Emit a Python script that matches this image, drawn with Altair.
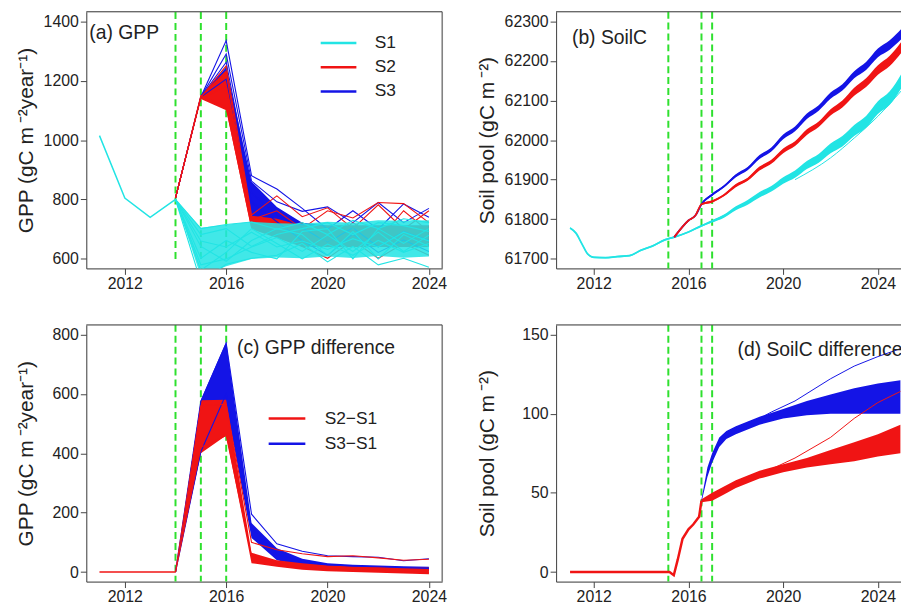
import altair as alt
import pandas as pd

FONT = "Liberation Sans"
CYAN = "#22e4e4"
RED = "#f01414"
BLUE = "#1414e6"
GREEN = "#2ee02e"
FRAME = "#444444"
TEXT = "#222222"

# ---------------- data: panel (a) GPP ----------------
a_hist_years = [2011, 2012, 2013, 2014]
a_hist_s1 = [1015, 805, 740, 800]
a_years = [2014, 2015, 2016, 2017, 2018, 2019, 2020, 2021, 2022, 2023, 2024]
a_s1_lo = [800, 540, 575, 600, 605, 602, 608, 603, 610, 604, 608]
a_s1_hi = [800, 705, 715, 725, 720, 718, 725, 722, 730, 728, 730]
a_s2_lo = [805, 1138, 1100, 700, 670, 640, 640, 640, 640, 640, 640]
a_s2_hi = [805, 1150, 1235, 745, 735, 712, 712, 712, 712, 712, 712]
a_s3_lo = [805, 1140, 1130, 745, 705, 660, 640, 640, 640, 640, 640]
a_s3_hi = [805, 1150, 1245, 860, 775, 722, 712, 712, 712, 712, 712]
a_s1_members = [
    [800, 702, 716, 724, 700, 722, 682, 730, 702, 735, 722],
    [800, 562, 622, 702, 652, 600, 650, 612, 662, 622, 652],
    [800, 642, 592, 662, 702, 682, 612, 692, 600, 682, 642],
    [800, 522, 582, 602, 612, 652, 590, 642, 580, 602, 572],
    [800, 682, 702, 642, 682, 702, 722, 682, 722, 712, 692],
    [800, 602, 662, 622, 600, 692, 702, 600, 702, 652, 702],
    [800, 660, 640, 690, 640, 660, 632, 668, 640, 690, 660],
    [800, 580, 600, 640, 672, 625, 680, 625, 690, 625, 680],
]
a_s2_members = [
    [805, 1145, 1250, 748, 812, 742, 772, 702, 782, 700, 762],
    [805, 1145, 1228, 732, 762, 702, 762, 738, 790, 786, 722],
    [805, 1140, 1180, 716, 702, 642, 602, 662, 602, 652, 612],
    [805, 1150, 1112, 706, 692, 722, 652, 722, 662, 762, 692],
]
a_s3_members = [
    [805, 1145, 1335, 880, 835, 770, 700, 762, 700, 785, 740],
    [805, 1145, 1290, 862, 792, 760, 775, 722, 790, 722, 770],
    [805, 1145, 1262, 822, 748, 705, 655, 705, 640, 692, 662],
    [805, 1145, 1205, 792, 725, 662, 612, 684, 622, 664, 625],
]
a_series = ["S1", "S2", "S3"]
a_vlines = [2014, 2015, 2016]

# ---------------- data: panel (b) SoilC ----------------
b_s1_t = [2011.0, 2011.25, 2011.5, 2011.75, 2012.0, 2012.5, 2013.0, 2013.5, 2014.0, 2014.5,
          2015.0, 2015.4, 2016.0, 2016.5, 2017.0, 2017.5, 2018.0, 2018.5, 2019.0, 2019.5,
          2020.0, 2020.5, 2021.0, 2021.5, 2022.0, 2022.5, 2023.0, 2023.5, 2024.0, 2024.5, 2025.0]
b_s1_mid = [61778, 61765, 61738, 61712, 61704, 61703, 61706, 61708, 61722, 61733,
            61748, 61755, 61768, 61782, 61795, 61808, 61828, 61843, 61862, 61877,
            61898, 61914, 61937, 61954, 61979, 61997, 62024, 62046, 62082, 62106, 62150]
b_s1_hw = [2, 2, 2, 2, 2, 2, 2, 2, 2, 2, 2, 2, 2, 2, 3, 4, 5, 6, 7, 7,
           8, 9, 10, 11, 12, 13, 14, 15, 16, 17, 18]
b_sc_t = [2015.4, 2016.0, 2016.3, 2016.55, 2017.0, 2017.5, 2018.0, 2018.5, 2019.0, 2019.5,
          2020.0, 2020.5, 2021.0, 2021.5, 2022.0, 2022.5, 2023.0, 2023.5, 2024.0, 2024.5, 2025.0]
b_s2_mid = [61755, 61797, 61810, 61838, 61845, 61861, 61885, 61901, 61928, 61945,
            61973, 61991, 62020, 62040, 62070, 62091, 62122, 62145, 62177, 62200, 62235]
b_s2_hw = [1.5, 1.5, 1.5, 2, 3, 3, 4, 4, 5, 5, 6, 6, 7, 7, 8, 9, 10, 11, 12, 13, 14]
b_s3_mid = [61755, 61797, 61810, 61838, 61862, 61883, 61910, 61928, 61957, 61976,
            62008, 62028, 62060, 62081, 62112, 62133, 62165, 62187, 62220, 62240, 62268]
b_s3_hw = [1.5, 1.5, 1.5, 2, 3, 3, 4, 4, 5, 5, 6, 6, 7, 7, 8, 8, 9, 10, 11, 12, 13]
b_s1_out_t = [2020.5, 2022.0, 2023.0, 2024.0, 2025.0]
b_s1_out = [61900, 61955, 62005, 62060, 62125]
bd_vlines = [2015.15, 2016.55, 2017.0]

# ---------------- data: panel (c) GPP difference ----------------
c_base_t = [2011, 2014]
c_base = [0, 0]
c_years = [2014, 2015, 2016, 2017, 2018, 2019, 2020, 2021, 2022, 2023, 2024]
c_d2_lo = [0, 400, 460, 30, 18, 8, 3, 0, -2, -5, -7]
c_d2_hi = [0, 578, 580, 65, 40, 30, 22, 20, 18, 15, 15]
c_d3_lo = [0, 400, 560, 115, 40, 22, 15, 10, 8, 5, 3]
c_d3_hi = [0, 578, 775, 165, 80, 45, 30, 25, 22, 20, 18]
c_d2_members = [
    [0, 560, 565, 100, 75, 62, 52, 55, 48, 40, 43],
    [0, 420, 460, 55, 30, 15, 8, 5, 3, 0, -2],
]
c_d3_members = [
    [0, 575, 770, 195, 95, 70, 55, 52, 50, 38, 45],
    [0, 405, 600, 150, 60, 35, 25, 20, 18, 15, 12],
]
c_series = ["S2\u2212S1", "S3\u2212S1"]

# ---------------- data: panel (d) SoilC difference ----------------
d_rise_t = [2011.0, 2015.2, 2015.38, 2015.55, 2015.75, 2016.0, 2016.2, 2016.45, 2016.55]
d_rise = [0, 0, -2, 8, 21, 27, 30, 35, 45]
d_d2_t = [2016.55, 2017.0, 2017.5, 2018.0, 2018.5, 2019.0, 2020.0, 2021.0, 2022.0, 2023.0, 2024.0, 2024.95]
d_d2_lo = [44, 45, 49, 53, 56, 59, 63, 66, 68, 70, 73, 75]
d_d2_hi = [46, 50, 54, 58, 61, 64, 68, 72, 77, 82, 87, 93]
d_d3_t = [2016.55, 2016.8, 2017.0, 2017.3, 2017.6, 2018.0, 2018.5, 2019.0, 2020.0, 2021.0, 2022.0, 2023.0, 2024.0, 2024.95]
d_d3_lo = [44, 60, 69, 79, 84, 87, 90, 93, 97, 99, 100, 100, 100, 100]
d_d3_hi = [46, 66, 75, 85, 89, 92, 95, 98, 103, 108, 112, 116, 119, 121]
d_out_t = [2019.0, 2019.5, 2020.5, 2022.0, 2023.0, 2024.0, 2024.95]
d_d2_out = [62, 65, 72, 85, 97, 107, 114]
d_d3_out = [97, 101, 108, 122, 130, 136, 141]

# ---------------- layout constants ----------------
WL, WR, H = 359, 361, 259
XDOM_L = [2010.48, 2024.52]
XDOM_R = [2010.41, 2025.52]
YDOM_A = [568, 1432]
YDOM_B = [61676, 62324]
YDOM_C = [-32, 832]
YDOM_D = [-6, 156]
XTICKS = [2012, 2016, 2020, 2024]
SVG_W, SVG_H = 901, 612
GPP_TITLE = "GPP (gC m\u2009\u207b\u00b2year\u207b\u00b9)"
SOIL_TITLE = "Soil pool (gC m\u2009\u207b\u00b2)"


def xaxis():
    return alt.Axis(values=XTICKS, format="d", grid=False, title=None, tickSize=6,
                    labelPadding=1, labelFontSize=16, labelFont=FONT, labelColor=TEXT,
                    domainColor=FRAME, tickColor=FRAME, labelFlush=False)


def yaxis(title, values, ext, tpad):
    return alt.Axis(values=values, format="d", grid=False, title=title, tickSize=6,
                    labelPadding=2, labelFontSize=16, labelFont=FONT, labelColor=TEXT,
                    domainColor=FRAME, tickColor=FRAME, titleFontSize=21,
                    titleFont=FONT, titleFontWeight="normal", titleColor=TEXT,
                    minExtent=ext, maxExtent=ext, titlePadding=tpad)


def band_df(t, lo, hi):
    return pd.DataFrame({"x": t, "lo": lo, "hi": hi})


def mid_band_df(t, mid, hw):
    return pd.DataFrame({"x": t, "lo": [m - h for m, h in zip(mid, hw)],
                         "hi": [m + h for m, h in zip(mid, hw)], "y": mid})


def members_df(t, members, series):
    rows = []
    for i, m in enumerate(members):
        for x, y in zip(t, m):
            rows.append({"x": x, "y": y, "member": f"{series}{i}", "series": series})
    return pd.DataFrame(rows)


def make_panel(xdom, ydom, width, ytitle, yvals, ext, tpad, right_frame):
    X = alt.X("x:Q", scale=alt.Scale(domain=xdom, nice=False, zero=False), axis=xaxis())
    yax = yaxis(ytitle, yvals, ext, tpad)
    ysc = alt.Scale(domain=ydom, nice=False, zero=False)

    def Y(field):
        return alt.Y(f"{field}:Q", scale=ysc, axis=yax)

    def area(df, color, opacity=1.0, interp="linear"):
        return alt.Chart(df).mark_area(color=color, opacity=opacity, clip=True,
                                       interpolate=interp).encode(
            x=X, y=Y("lo"), y2="hi:Q")

    def line(df, color=None, width_=1.0, interp="linear", color_enc=None, opacity=1.0):
        kw = dict(strokeWidth=width_, clip=True, interpolate=interp, opacity=opacity)
        if color is not None:
            kw["color"] = color
        enc = dict(x=X, y=Y("y"))
        if "member" in df.columns:
            enc["detail"] = "member:N"
        if color_enc is not None:
            enc["color"] = color_enc
        return alt.Chart(df).mark_line(**kw).encode(**enc)

    def vlines(xs, y0=None, y1=None):
        df = pd.DataFrame({"x": xs})
        if y0 is None:
            return alt.Chart(df).mark_rule(color=GREEN, strokeWidth=2, strokeDash=[7, 4]).encode(
                x=X, y=alt.value(0), y2=alt.value(H))
        df["y0"] = y0
        df["y1"] = y1
        return alt.Chart(df).mark_rule(color=GREEN, strokeWidth=2, strokeDash=[7, 4]).encode(
            x=X, y=Y("y0"), y2="y1:Q")

    def label(text, px, py):
        return alt.Chart(pd.DataFrame({"t": [text]})).mark_text(
            align="left", baseline="middle", fontSize=19.5, font=FONT, color=TEXT,
            clip=True).encode(x=alt.value(px), y=alt.value(py), text="t:N")

    def frame():
        one = pd.DataFrame({"k": [0]})
        layers = [alt.Chart(one).mark_rule(color=FRAME, strokeWidth=1).encode(
            x=alt.value(0), x2=alt.value(width), y=alt.value(0))]
        if right_frame:
            layers.append(alt.Chart(one).mark_rule(color=FRAME, strokeWidth=1).encode(
                x=alt.value(width), y=alt.value(0), y2=alt.value(H)))
        return layers

    return dict(area=area, line=line, vlines=vlines, label=label, frame=frame)


def legend(x, y, length, row_gap, offset):
    return alt.Legend(title=None, orient="none", legendX=x, legendY=y,
                      symbolType="M-2,0H2", symbolSize=(length / 2) ** 2,
                      symbolStrokeWidth=2.5, labelFontSize=17.5,
                      labelFont=FONT, labelColor=TEXT, labelOffset=offset,
                      rowPadding=row_gap, padding=0)


# ---------------- panel (a) ----------------
pa = make_panel(XDOM_L, YDOM_A, WL, GPP_TITLE, [600, 800, 1000, 1200, 1400], 44, 6, True)
col_a = alt.Color("series:N", scale=alt.Scale(domain=a_series, range=[CYAN, RED, BLUE]),
                  legend=legend(244, 21, 36, 5.5, 26))
a_layers = [
    pa["vlines"](a_vlines, [600] * 3, [1432] * 3),
    pa["area"](band_df(a_years, a_s3_lo, a_s3_hi), BLUE),
    pa["area"](band_df(a_years, a_s2_lo, a_s2_hi), RED),
    pa["line"](members_df(a_years, a_s3_members, "S3"), width_=1.1, color_enc=col_a),
    pa["line"](members_df(a_years, a_s2_members, "S2"), width_=1.1, color_enc=col_a),
    pa["area"](band_df(a_years, a_s1_lo, a_s1_hi), CYAN, opacity=0.86),
    pa["line"](members_df(a_years, a_s1_members, "S1"), width_=1.1, color_enc=col_a),
    pa["line"](members_df(a_hist_years, [a_hist_s1], "S1"), width_=1.5, color_enc=col_a),
    pa["label"]("(a) GPP", 3, 21.5),
] + pa["frame"]()
chart_a = alt.layer(*a_layers).properties(width=WL, height=H)

# ---------------- panel (b) ----------------
pb = make_panel(XDOM_R, YDOM_B, WR, SOIL_TITLE,
                [61700, 61800, 61900, 62000, 62100, 62200, 62300], 52, 7, False)
b_s1 = mid_band_df(b_s1_t, b_s1_mid, b_s1_hw)
b_s2 = mid_band_df(b_sc_t, b_s2_mid, b_s2_hw)
b_s3 = mid_band_df(b_sc_t, b_s3_mid, b_s3_hw)
b_layers = [
    pb["vlines"](bd_vlines),
    pb["area"](b_s1, CYAN, interp="monotone"),
    pb["line"](b_s1, CYAN, 1.8, "monotone"),
    pb["line"](pd.DataFrame({"x": b_s1_out_t, "y": b_s1_out}), CYAN, 1.0, "monotone"),
    pb["area"](b_s3, BLUE, interp="monotone"),
    pb["line"](b_s3, BLUE, 1.8, "monotone"),
    pb["area"](b_s2, RED, interp="monotone"),
    pb["line"](b_s2, RED, 1.8, "monotone"),
    pb["label"]("(b) SoilC", 16, 26.5),
] + pb["frame"]()
chart_b = alt.layer(*b_layers).properties(width=WR, height=H)

# ---------------- panel (c) ----------------
pc = make_panel(XDOM_L, YDOM_C, WL, GPP_TITLE, [0, 200, 400, 600, 800], 44, 6, True)
col_c = alt.Color("series:N", scale=alt.Scale(domain=c_series, range=[RED, BLUE]),
                  legend=legend(192, 84, 37, 6.5, 27.5))
c_layers = [
    pc["vlines"](a_vlines),
    pc["area"](band_df(c_years, c_d3_lo, c_d3_hi), BLUE),
    pc["area"](band_df(c_years, c_d2_lo, c_d2_hi), RED),
    pc["line"](members_df(c_years, c_d3_members, c_series[1]), width_=1.1, color_enc=col_c),
    pc["line"](members_df(c_years, c_d2_members, c_series[0]), width_=1.1, color_enc=col_c),
    pc["line"](members_df(c_base_t, [c_base], c_series[0]), width_=1.5, color_enc=col_c),
    pc["label"]("(c) GPP difference", 152, 23),
] + pc["frame"]()
chart_c = alt.layer(*c_layers).properties(width=WL, height=H)

# ---------------- panel (d) ----------------
pdd = make_panel(XDOM_R, YDOM_D, WR, SOIL_TITLE, [0, 50, 100, 150], 52, 7, False)
d_layers = [
    pdd["vlines"](bd_vlines),
    pdd["area"](band_df(d_d3_t, d_d3_lo, d_d3_hi), BLUE),
    pdd["line"](pd.DataFrame({"x": d_out_t, "y": d_d3_out}), BLUE, 1.0),
    pdd["area"](band_df(d_d2_t, d_d2_lo, d_d2_hi), RED),
    pdd["line"](pd.DataFrame({"x": d_out_t, "y": d_d2_out}), RED, 1.0),
    pdd["line"](pd.DataFrame({"x": d_rise_t, "y": d_rise}), RED, 2.5),
    pdd["label"]("(d) SoilC difference", 183, 25),
] + pdd["frame"]()
chart_d = alt.layer(*d_layers).properties(width=WR, height=H)

top = alt.hconcat(chart_a, chart_b, spacing=28).resolve_scale(color="independent")
bottom = alt.hconcat(chart_c, chart_d, spacing=28).resolve_scale(color="independent")
PAD_L, PAD_T = 79, 1
chart = (alt.vconcat(top, bottom, spacing=31)
         .resolve_scale(color="independent")
         .properties(autosize=alt.AutoSizeParams(type="none"),
                     padding={"left": PAD_L, "top": PAD_T,
                              "right": SVG_W - PAD_L, "bottom": SVG_H - PAD_T})
         .configure_view(stroke=None)
         .configure(font=FONT))

chart.save("out.html", embed_options={"renderer": "svg", "actions": False})
